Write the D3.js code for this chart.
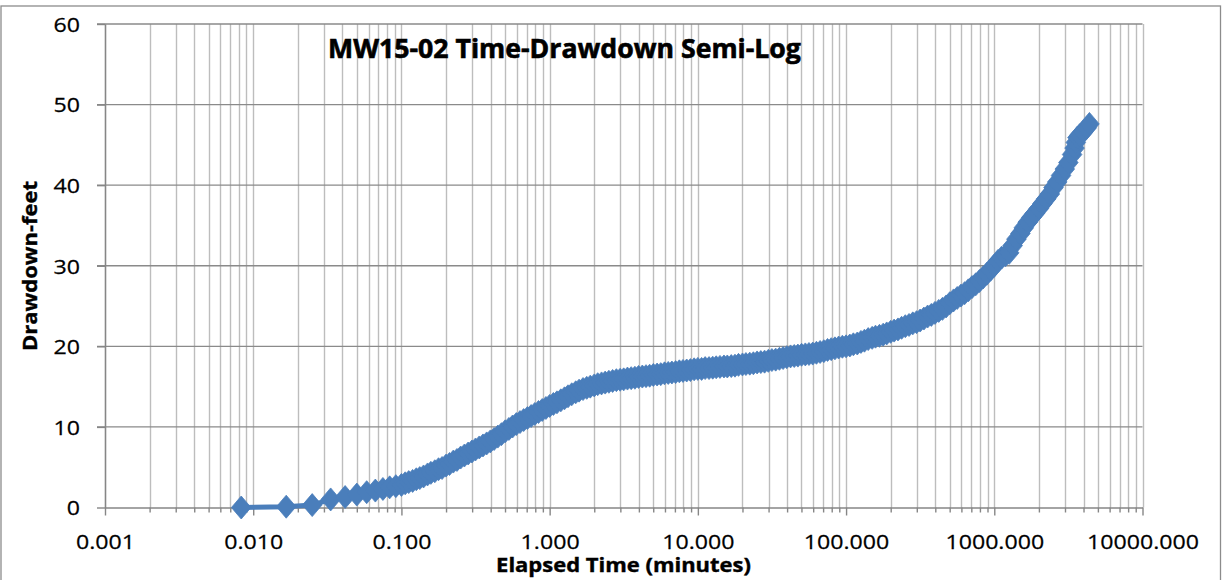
<!DOCTYPE html>
<html>
<head>
<meta charset="utf-8">
<script src="https://cdn.jsdelivr.net/npm/d3@7"></script>
<style>
  html, body { margin: 0; padding: 0; background: #fff; }
  svg { display: block; }
  text { font-family: "Open Sans", Lato, "Liberation Sans", sans-serif; fill: #000; }
</style>
</head>
<body>
<svg id="chart" width="1222" height="580"></svg>
<script>
// ---- Data ----
const chartTitle = "MW15-02 Time-Drawdown Semi-Log";
const xAxisTitle = "Elapsed Time (minutes)";
const yAxisTitle = "Drawdown-feet";

const xTickValues = [0.001, 0.01, 0.1, 1, 10, 100, 1000, 10000];
const xTickLabels = ["0.001", "0.010", "0.100", "1.000", "10.000", "100.000", "1000.000", "10000.000"];
const yTickValues = [0, 10, 20, 30, 40, 50, 60];

// elapsed time, minutes
const elapsedTime = [
  0.0083, 0.0167, 0.025, 0.0333, 0.0417, 0.05, 0.0583, 0.0667, 0.075, 0.0833, 0.0917,
  0.100, 0.106, 0.112, 0.119, 0.126, 0.133, 0.141, 0.150, 0.158, 0.168, 0.178, 0.188, 0.200, 0.211, 0.224, 0.237, 0.251, 0.266, 0.282, 0.299,
  0.316, 0.335, 0.355, 0.376, 0.398, 0.422, 0.447, 0.473, 0.501, 0.531, 0.562, 0.596, 0.631, 0.668, 0.708, 0.750, 0.794, 0.841, 0.891, 0.944,
  1.00, 1.06, 1.12, 1.19, 1.26, 1.33, 1.41, 1.50, 1.58, 1.68, 1.78, 1.88, 2.00, 2.11, 2.24, 2.37, 2.51, 2.66, 2.82, 2.99,
  3.16, 3.35, 3.55, 3.76, 3.98, 4.22, 4.47, 4.73, 5.01, 5.31, 5.62, 5.96, 6.31, 6.68, 7.08, 7.50, 7.94, 8.41, 8.91, 9.44,
  10.0, 10.6, 11.2, 11.9, 12.6, 13.3, 14.1, 15.0, 15.8, 16.8, 17.8, 18.8, 20.0, 21.1, 22.4, 23.7, 25.1, 26.6, 28.2, 29.9,
  31.6, 33.5, 35.5, 37.6, 39.8, 42.2, 44.7, 47.3, 50.1, 53.1, 56.2, 59.6, 63.1, 66.8, 70.8, 75.0, 79.4, 84.1, 89.1, 94.4,
  100, 106, 112, 119, 126, 133, 141, 150, 158, 168, 178, 188, 200, 211, 224, 237, 251, 266, 282, 299,
  316, 335, 355, 376, 398, 422, 447, 473, 501, 531, 562, 596, 631, 668, 708, 750, 794, 841, 891, 944,
  1000, 1060, 1120, 1190, 1260, 1330, 1410, 1500, 1580, 1680, 1780, 1880, 2000, 2110, 2240, 2370, 2510, 2660, 2820, 2990,
  3160, 3350, 3480, 3550, 3640, 3760, 3980, 4200, 4385
];
// drawdown, feet
const drawdownFeet = [
  0, 0.1, 0.3, 1.0, 1.3, 1.6, 1.9, 2.1, 2.3, 2.5, 2.65,
  2.8, 3.0, 3.15, 3.3, 3.5, 3.65, 3.85, 4.1, 4.3, 4.5, 4.75, 4.9, 5.2, 5.4, 5.7, 5.9, 6.2, 6.45, 6.7, 6.95,
  7.2, 7.45, 7.7, 7.95, 8.2, 8.5, 8.8, 9.1, 9.45, 9.75, 10.05, 10.35, 10.6, 10.85, 11.1, 11.35, 11.6, 11.85, 12.1, 12.35,
  12.6, 12.85, 13.05, 13.3, 13.55, 13.8, 14.05, 14.3, 14.5, 14.7, 14.85, 15.0, 15.15, 15.3, 15.4, 15.5, 15.6, 15.7, 15.8, 15.85,
  15.9, 16.0, 16.05, 16.1, 16.2, 16.25, 16.3, 16.35, 16.45, 16.5, 16.55, 16.65, 16.7, 16.75, 16.8, 16.9, 16.95, 17.0, 17.05, 17.15,
  17.2, 17.2, 17.3, 17.3, 17.35, 17.4, 17.45, 17.5, 17.5, 17.55, 17.6, 17.7, 17.75, 17.8, 17.85, 17.9, 18.0, 18.05, 18.1, 18.2,
  18.3, 18.35, 18.45, 18.55, 18.65, 18.75, 18.8, 18.85, 18.95, 19.0, 19.05, 19.1, 19.2, 19.3, 19.4, 19.55, 19.65, 19.75, 19.85, 19.95,
  20.0, 20.1, 20.25, 20.35, 20.55, 20.7, 20.9, 21.05, 21.2, 21.3, 21.45, 21.6, 21.8, 21.95, 22.1, 22.3, 22.5, 22.65, 22.85, 23.0,
  23.2, 23.45, 23.7, 23.9, 24.15, 24.4, 24.65, 24.95, 25.35, 25.7, 26.0, 26.3, 26.6, 26.95, 27.35, 27.7, 28.1, 28.55, 29.0, 29.5,
  30.0, 30.6, 31.0, 31.3, 31.6, 32.5, 33.3, 34.0, 34.7, 35.4, 36.0, 36.5, 37.1, 37.7, 38.3, 38.9, 39.7, 40.4, 41.2, 42.0,
  42.8, 43.8, 44.6, 45.3, 45.9, 46.2, 46.6, 47.1, 47.6
];

// ---- Layout ----
const plot = { left: 105, right: 1142.5, top: 24, bottom: 507.5 };
const seriesColor = "#4a7ebb";
const textScaleX = 1.13;

const svg = d3.select("#chart");

// outer chart border
svg.append("rect")
  .attr("x", 1).attr("y", 6).attr("width", 1219.5).attr("height", 600)
  .attr("fill", "none").attr("stroke", "#8c8c8c").attr("stroke-width", 1.3);

const x = d3.scaleLog().domain([0.001, 10000]).range([plot.left, plot.right]);
const y = d3.scaleLinear().domain([0, 60]).range([plot.bottom, plot.top]);

// minor log values (2..9 per decade) for vertical gridlines
const minorVals = [];
xTickValues.slice(0, -1).forEach(d => { for (let m = 2; m <= 9; m++) minorVals.push(m * d); });
const allVert = xTickValues.concat(minorVals);

// vertical gridlines
svg.append("g").selectAll("line").data(allVert).join("line")
  .attr("x1", d => Math.round(x(d)) + 0.5).attr("x2", d => Math.round(x(d)) + 0.5)
  .attr("y1", plot.top).attr("y2", plot.bottom)
  .attr("stroke", "#bdbdbd").attr("stroke-width", 1.4);

// horizontal gridlines
svg.append("g").selectAll("line").data(yTickValues.filter(v => v > 0)).join("line")
  .attr("x1", plot.left - 8).attr("x2", plot.right)
  .attr("y1", d => y(d)).attr("y2", d => y(d))
  .attr("stroke", "#8a8a8a").attr("stroke-width", 1.4);

// y axis
const yAxisG = svg.append("g").attr("transform", `translate(${plot.left},0)`)
  .call(d3.axisLeft(y).tickValues(yTickValues).tickSize(8).tickSizeOuter(0).tickFormat(d3.format("d")));
yAxisG.select(".domain").attr("stroke", "#868686").attr("stroke-width", 1.4);
yAxisG.selectAll(".tick line").attr("stroke", "#868686").attr("stroke-width", 1.4);
yAxisG.selectAll(".tick text")
  .attr("x", 0).attr("dy", "0.36em").attr("text-anchor", "end")
  .attr("font-size", 20.5).attr("stroke", "#000").attr("stroke-width", 0.25)
  .attr("transform", `translate(-25,0) scale(${textScaleX},1)`);

// x axis minor ticks
const xMinorG = svg.append("g").attr("transform", `translate(0,${plot.bottom})`)
  .call(d3.axisBottom(x).tickValues(minorVals).tickSize(5).tickSizeOuter(0).tickFormat(""));
xMinorG.select(".domain").remove();
xMinorG.selectAll(".tick line").attr("stroke", "#868686").attr("stroke-width", 1.4);

// x axis major
const xAxisG = svg.append("g").attr("transform", `translate(0,${plot.bottom})`)
  .call(d3.axisBottom(x).tickValues(xTickValues).tickSize(8).tickSizeOuter(0)
    .tickFormat((d, i) => xTickLabels[i]));
xAxisG.select(".domain").attr("stroke", "#868686").attr("stroke-width", 1.4);
xAxisG.selectAll(".tick text")
  .attr("y", 0).attr("dy", 0).attr("text-anchor", "middle")
  .attr("font-size", 20.5).attr("stroke", "#000").attr("stroke-width", 0.25)
  .attr("transform", `translate(0,41.5) scale(${textScaleX},1)`);
xAxisG.selectAll(".tick line").attr("stroke", "#868686").attr("stroke-width", 1.4);

// series
const pts = elapsedTime.map((t, i) => [t, drawdownFeet[i]]);
svg.append("path").datum(pts)
  .attr("d", d3.line().x(d => x(d[0])).y(d => y(d[1])))
  .attr("fill", "none").attr("stroke", seriesColor).attr("stroke-width", 5)
  .attr("stroke-linejoin", "round");

const diamond = "M0,-11.5L9.8,0L0,11.5L-9.8,0Z";
svg.append("g").selectAll("path").data(pts).join("path")
  .attr("d", diamond)
  .attr("transform", d => `translate(${x(d[0])},${y(d[1])})`)
  .attr("fill", seriesColor).attr("stroke", seriesColor).attr("stroke-width", 0.8);

// text helper: stretch horizontally to a target width
function fitText(sel, base, targetW) {
  const L = sel.node().getComputedTextLength();
  sel.attr("transform", `${base} scale(${targetW / L},1)`);
}

// title
const t1 = svg.append("text").text(chartTitle)
  .attr("text-anchor", "middle").attr("font-weight", "bold").attr("font-size", 26)
  .attr("stroke", "#000").attr("stroke-width", 0.6);
fitText(t1, "translate(564.5,57.5)", 473);

// x axis title
const t2 = svg.append("text").text(xAxisTitle)
  .attr("text-anchor", "middle").attr("font-weight", "bold").attr("font-size", 20)
  .attr("stroke", "#000").attr("stroke-width", 0.4);
fitText(t2, "translate(623.5,571.5)", 255);

// y axis title
const t3 = svg.append("text").text(yAxisTitle)
  .attr("text-anchor", "middle").attr("font-weight", "bold").attr("font-size", 20)
  .attr("stroke", "#000").attr("stroke-width", 0.4);
fitText(t3, "translate(37,266) rotate(-90)", 170);
</script>
</body>
</html>
